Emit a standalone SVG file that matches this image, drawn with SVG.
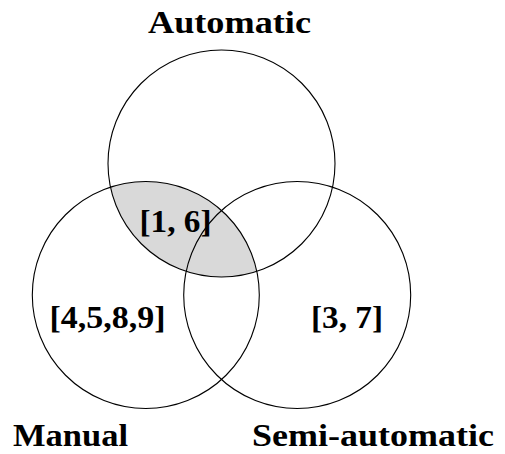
<svg xmlns="http://www.w3.org/2000/svg" width="505" height="454" viewBox="0 0 505 454">
<style>
.c{fill:none;stroke:#000;stroke-width:1.1}
.t{font-family:"Liberation Serif","Times New Roman",serif;font-weight:bold;font-size:31px;fill:#000}
</style>
<defs>
<clipPath id="clipA"><circle cx="221.5" cy="163.5" r="113.5"/></clipPath>
</defs>
<rect width="505" height="454" fill="#fff"/>
<g id="shade"><circle cx="145.8" cy="295" r="113.5" fill="#d9d9d9" clip-path="url(#clipA)"/></g>
<g id="automatic"><circle class="c" cx="221.5" cy="163.5" r="113.5"/><text class="t" x="148" y="33" textLength="163" lengthAdjust="spacingAndGlyphs">Automatic</text></g>
<g id="manual"><circle class="c" cx="145.8" cy="295" r="113.5"/><text class="t" x="13" y="446" textLength="115" lengthAdjust="spacingAndGlyphs">Manual</text></g>
<g id="semi"><circle class="c" cx="297.2" cy="295" r="113.5"/><text class="t" x="252" y="446" textLength="242" lengthAdjust="spacingAndGlyphs">Semi-automatic</text></g>
<g id="labels">
<text class="t" x="139.5" y="231.5" textLength="72" lengthAdjust="spacingAndGlyphs">[1, 6]</text>
<text class="t" x="49.5" y="328" textLength="116" lengthAdjust="spacingAndGlyphs">[4,5,8,9]</text>
<text class="t" x="311" y="328" textLength="72" lengthAdjust="spacingAndGlyphs">[3, 7]</text>
</g>
</svg>
